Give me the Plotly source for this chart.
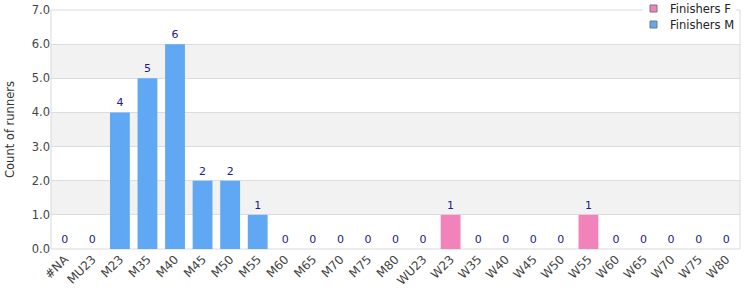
import plotly.graph_objects as go

categories = ["#NA", "MU23", "M23", "M35", "M40", "M45", "M50", "M55", "M60", "M65", "M70",
              "M75", "M80", "WU23", "W23", "W35", "W40", "W45", "W50", "W55", "W60", "W65",
              "W70", "W75", "W80"]
finishers_m = [0, 0, 4, 5, 6, 2, 2, 1, 0, 0, 0, 0, 0, 0, None, None, None, None, None, None,
               None, None, None, None, None]
finishers_f = [None] * 14 + [1, 0, 0, 0, 0, 1, 0, 0, 0, 0, 0]
y_ticks = [0, 1, 2, 3, 4, 5, 6, 7]
series_names = ["Finishers F", "Finishers M"]

label_color = "#1c1c8a"
font_family = "DejaVu Sans"
color_f = "#f282ba"
color_m = "#60a8f4"

W, H = 750, 300
ML, MR, MT, MB = 51, 10, 10, 51
PW, PH = W - ML - MR, H - MT - MB


def px_x(x):
    return (x - ML) / PW


def px_y(y):
    return (H - MB - y) / PH


def labels(vals):
    return ["" if v is None else str(v) for v in vals]


fig = go.Figure()
fig.add_trace(go.Bar(
    name=series_names[0], x=categories, y=finishers_f, text=labels(finishers_f),
    textposition="outside", textfont=dict(color=label_color, size=11, family=font_family),
    marker=dict(color=color_f, line=dict(width=0)), width=0.72, cliponaxis=False,
))
fig.add_trace(go.Bar(
    name=series_names[1], x=categories, y=finishers_m, text=labels(finishers_m),
    textposition="outside", textfont=dict(color=label_color, size=11, family=font_family),
    marker=dict(color=color_m, line=dict(width=0)), width=0.72, cliponaxis=False,
))

shapes = []
for i in range(1, len(y_ticks) - 1, 2):
    shapes.append(dict(type="rect", xref="paper", yref="y", x0=0, x1=1,
                       y0=y_ticks[i], y1=y_ticks[i + 1], fillcolor="#f2f2f2",
                       line=dict(width=0), layer="below"))
shapes.append(dict(type="rect", xref="paper", yref="paper", x0=0, x1=1, y0=0, y1=1,
                   line=dict(color="#d9d9d9", width=1), layer="below"))
# legend box (white background covering the frame top)
shapes.append(dict(type="rect", xref="paper", yref="paper", x0=px_x(643), x1=px_x(736),
                   y0=px_y(31), y1=px_y(0), fillcolor="white", line=dict(width=0),
                   layer="above"))

annotations = []
for k, (name, col) in enumerate(zip(series_names, [color_f, color_m])):
    yc = 8.5 + 16 * k
    shapes.append(dict(type="rect", xref="paper", yref="paper",
                       x0=px_x(650), x1=px_x(657), y0=px_y(yc + 3.5), y1=px_y(yc - 3.5),
                       fillcolor=col, line=dict(color="#777", width=1), layer="above"))
    annotations.append(dict(text=name, xref="paper", yref="paper", x=px_x(668), y=px_y(yc),
                            xanchor="left", yanchor="middle", showarrow=False,
                            font=dict(size=11.5, color="#222", family=font_family)))

fig.update_layout(
    width=W, height=H,
    margin=dict(l=ML, r=MR, t=MT, b=MB, autoexpand=False),
    barmode="overlay",
    plot_bgcolor="white", paper_bgcolor="white",
    font=dict(family=font_family, size=11, color="#444"),
    shapes=shapes,
    annotations=annotations,
    showlegend=False,
    xaxis=dict(type="category", tickangle=-45, tickfont=dict(size=12, color="#444"),
               showgrid=False, showline=False, ticks="", automargin=False),
    yaxis=dict(range=[0, 7], tickvals=y_ticks, tickformat=".1f", showgrid=True,
               gridcolor="#dcdcdc", gridwidth=1, zeroline=False, showline=False,
               tickfont=dict(size=11.5, color="#444"), automargin=False,
               title=dict(text="Count of runners", font=dict(size=11.5, color="#333"), standoff=14)),
)

fig.write_html("out.html")
